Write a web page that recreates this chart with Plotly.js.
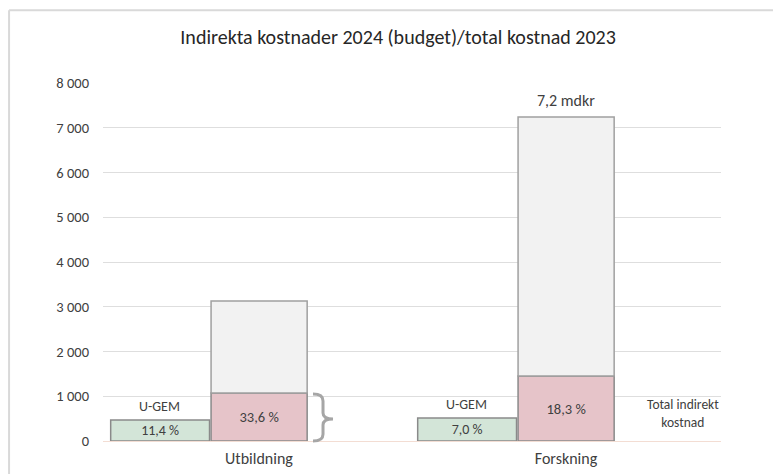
<!DOCTYPE html>
<html>
<head>
<meta charset="utf-8">
<script src="https://cdn.plot.ly/plotly-3.0.1.min.js"></script>
<style>body{margin:0;background:#fff}#chart{width:773px;height:474px}</style>
</head>
<body>
<div id="chart"></div>
<script>
const categories = ["Utbildning", "Forskning"];
const ugemValues = [470, 515];
const indirectValues = [1070, 1450];
const totalValues = [3130, 7240];
const ugemPctLabels = ["11,4 %", "7,0 %"];
const indirectPctLabels = ["33,6 %", "18,3 %"];
const totalLabels = ["", "7,2 mdkr"];
const yTicks = [0, 1000, 2000, 3000, 4000, 5000, 6000, 7000, 8000];

const FONT = "Carlito, Lato, 'Liberation Sans', sans-serif";
const TXT = "#404040";

const remainder = totalValues.map((t, i) => t - indirectValues[i]);

const traces = [
  {
    type: "bar", name: "U-GEM", x: categories, y: ugemValues,
    width: 0.322, offset: -0.483,
    marker: {color: "#d3e5d8", line: {color: "#8a8a8a", width: 1.5}},
    text: ugemPctLabels, textposition: "inside", insidetextanchor: "middle",
    textfont: {family: FONT, size: 14, color: TXT}, constraintext: "none",
    hoverinfo: "skip"
  },
  {
    type: "bar", name: "Indirekt", x: categories, y: indirectValues,
    width: 0.313, offset: -0.156,
    marker: {color: "#e6c4c9", line: {color: "#8a8a8a", width: 1.5}},
    text: indirectPctLabels, textposition: "inside", insidetextanchor: "middle",
    textfont: {family: FONT, size: 14.5, color: TXT}, constraintext: "none",
    hoverinfo: "skip"
  },
  {
    type: "bar", name: "Total", x: categories, y: remainder, base: indirectValues,
    width: 0.313, offset: -0.156,
    marker: {color: "#f2f2f2", line: {color: "#a0a0a0", width: 1.5}},
    hoverinfo: "skip"
  }
];

const annotations = [];
categories.forEach((c, i) => {
  annotations.push({
    x: c, y: ugemValues[i], xref: "x", yref: "y", text: "U-GEM",
    showarrow: false, yanchor: "bottom", xanchor: "center", xshift: -99, yshift: 3,
    font: {family: FONT, size: 14, color: TXT}
  });
  if (totalLabels[i]) {
    annotations.push({
      x: c, y: totalValues[i], xref: "x", yref: "y", text: totalLabels[i],
      showarrow: false, yanchor: "bottom", xanchor: "center", yshift: 5,
      font: {family: FONT, size: 16, color: TXT}
    });
  }
});
annotations.push({
  x: 0.9385, y: 0.076, xref: "paper", yref: "paper", xanchor: "center", yanchor: "middle",
  text: "Total indirekt<br>kostnad", showarrow: false,
  font: {family: FONT, size: 13.5, color: TXT}, align: "center"
});

const shapes = [
  {type: "line", xref: "paper", yref: "paper", x0: -0.152, x1: -0.152, y0: 1.203, y1: -0.15,
   line: {color: "#d9d9d9", width: 2}},
  {type: "line", xref: "paper", yref: "paper", x0: -0.152, x1: 1.2, y0: 1.203, y1: 1.203,
   line: {color: "#d9d9d9", width: 2}},
  {type: "path", xref: "paper", yref: "paper",
   path: "M 0.3398 0.131 Q 0.356 0.131 0.356 0.112 L 0.356 0.078 Q 0.356 0.0615 0.3722 0.0615 Q 0.356 0.0615 0.356 0.045 L 0.356 0.019 Q 0.356 0 0.3398 0",
   line: {color: "#a6a6a6", width: 3}}
];

const layout = {
  width: 773, height: 474,
  margin: {l: 103, r: 52, t: 83, b: 33},
  paper_bgcolor: "#ffffff", plot_bgcolor: "#ffffff",
  separators: ", ",
  barmode: "overlay",
  showlegend: false,
  title: {
    text: "Indirekta kostnader 2024 (budget)/total kostnad 2023",
    x: 0.515, xanchor: "center", y: 0.922, yanchor: "middle",
    font: {family: FONT, size: 20, color: "#262626"}
  },
  xaxis: {
    type: "category", categoryorder: "array", categoryarray: categories,
    range: [-0.508, 1.505], showgrid: false, showline: false, ticks: "",
    ticklabelstandoff: 6,
    tickfont: {family: FONT, size: 16, color: TXT}, fixedrange: true
  },
  yaxis: {
    range: [0, 8000], tickvals: yTicks, tickformat: ",d",
    showgrid: true, gridcolor: "#dedede", gridwidth: 1,
    zeroline: true, zerolinecolor: "#f3ddd3", zerolinewidth: 1,
    showline: false, ticks: "", ticklabelstandoff: 13,
    tickfont: {family: FONT, size: 14.5, color: TXT}, fixedrange: true
  },
  annotations: annotations,
  shapes: shapes
};

Plotly.newPlot("chart", traces, layout, {displayModeBar: false, staticPlot: true});
</script>
</body>
</html>
